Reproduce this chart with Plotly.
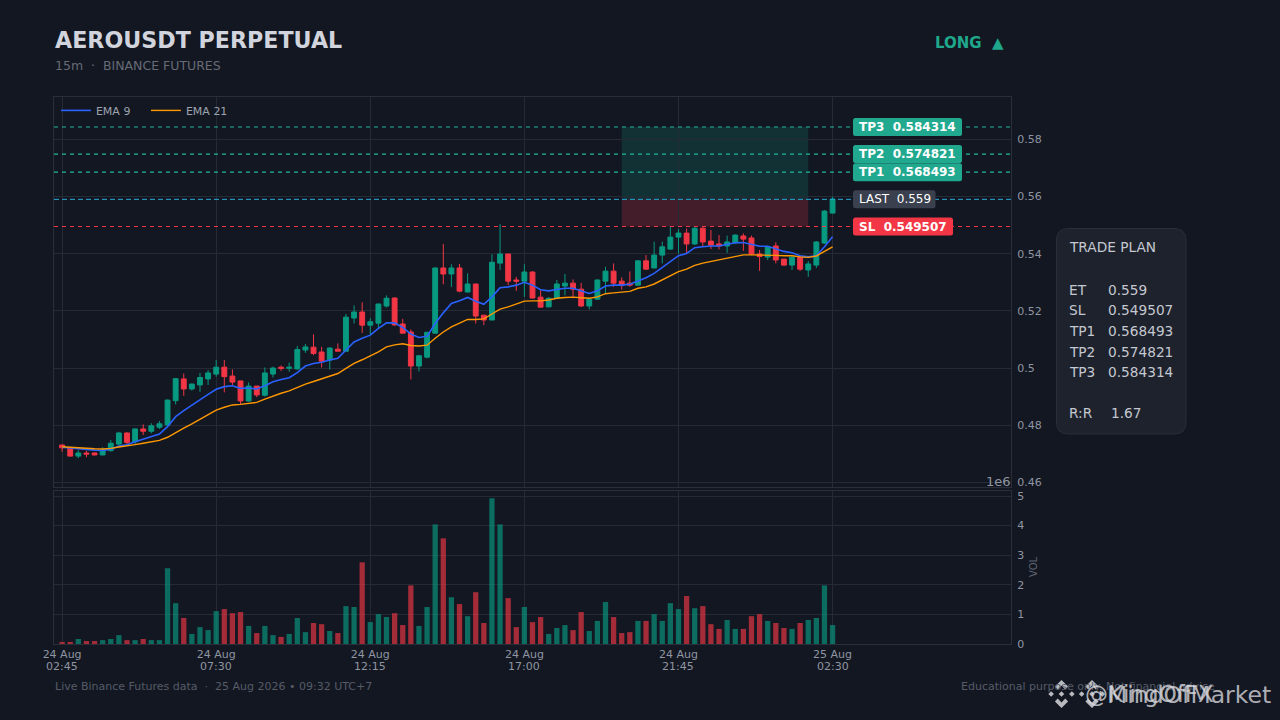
import plotly.graph_objects as go

FONT = "DejaVu Sans"
BG = "#131722"
GRID = "#262a35"
FRAME = "#2a2e39"
GREEN = "#089981"
RED = "#f23645"

opens = [.4731, .4721, .4692, .4703, .4703, .4696, .4711, .4734, .4773, .4742,
         .4787, .4779, .4793, .4801, .4886, .4962, .4927, .4941, .4962, .4979,
         .5003, .4972, .4955, .4885, .4937, .4905, .4979, .5003, .4999, .4997,
         .5063, .5073, .5056, .5028, .5066, .5059, .5175, .5196, .5150, .5157,
         .5217, .5245, .5154, .5126, .5007, .5038, .5122, .5350, .5329, .5350,
         .5266, .5294, .5185, .5168, .5367, .5399, .5308, .5304, .5336, .5248,
         .5214, .5244, .5287, .5297, .5276, .5217, .5241, .5304, .5339, .5304,
         .5297, .5290, .5375, .5350, .5395, .5416, .5458, .5472, .5434, .5489,
         .5444, .5434, .5427, .5438, .5462, .5455, .5399, .5388, .5427, .5381,
         .5360, .5388, .5343, .5360, .5437, .5542]
highs = [.4733, .4722, .4713, .4711, .4705, .4723, .4748, .4777, .4775, .4789,
         .4803, .4807, .4815, .4890, .4964, .4981, .4946, .4983, .4993, .5028,
         .5028, .4995, .4955, .4950, .4937, .5002, .5005, .5009, .5019, .5077,
         .5084, .5118, .5074, .5072, .5086, .5189, .5219, .5230, .5174, .5225,
         .5254, .5247, .5172, .5135, .5045, .5127, .5352, .5434, .5363, .5364,
         .5331, .5295, .5185, .5398, .5503, .5399, .5319, .5363, .5338, .5273,
         .5248, .5308, .5329, .5310, .5298, .5245, .5310, .5354, .5366, .5317,
         .5338, .5378, .5395, .5442, .5442, .5494, .5486, .5488, .5496, .5496,
         .5483, .5465, .5463, .5468, .5471, .5463, .5413, .5426, .5440, .5381,
         .5390, .5390, .5374, .5444, .5552, .5599]
lows = [.4707, .4691, .4685, .4688, .4695, .4696, .4708, .4730, .4731, .4731,
        .4766, .4772, .4787, .4798, .4873, .4903, .4921, .4917, .4941, .4970,
        .4915, .4941, .4873, .4882, .4898, .4900, .4967, .4990, .4987, .4993,
        .5053, .5045, .5002, .4995, .5059, .5057, .5156, .5123, .5118, .5139,
        .5212, .5148, .5121, .4960, .4988, .5034, .5120, .5293, .5284, .5265,
        .5265, .5156, .5150, .5168, .5343, .5290, .5270, .5249, .5243, .5213,
        .5212, .5241, .5254, .5244, .5214, .5205, .5238, .5261, .5284, .5275,
        .5284, .5290, .5343, .5348, .5366, .5413, .5401, .5401, .5430, .5427,
        .5416, .5415, .5403, .5434, .5410, .5395, .5340, .5378, .5366, .5358,
        .5343, .5340, .5319, .5350, .5434, .5541]
closes = [.4721, .4692, .4703, .4699, .4696, .4713, .4737, .4773, .4740, .4787,
          .4779, .4798, .4805, .4888, .4963, .4927, .4944, .4967, .4983, .5003,
          .4970, .4951, .4885, .4937, .4906, .4983, .5000, .4999, .5003, .5065,
          .5074, .5051, .5024, .5070, .5059, .5178, .5196, .5150, .5162, .5224,
          .5244, .5151, .5122, .5007, .5043, .5125, .5350, .5329, .5350, .5269,
          .5294, .5182, .5168, .5370, .5399, .5304, .5304, .5336, .5245, .5213,
          .5244, .5294, .5297, .5276, .5217, .5241, .5308, .5339, .5297, .5290,
          .5290, .5375, .5346, .5395, .5424, .5458, .5472, .5434, .5489, .5441,
          .5430, .5427, .5441, .5465, .5451, .5399, .5390, .5424, .5378, .5360,
          .5388, .5346, .5364, .5441, .5549, .5591]
ema9 = [.4723, .4720, .4717, .4716, .4713, .4712, .4716, .4727, .4732, .4742,
        .4751, .4760, .4769, .4795, .4830, .4851, .4871, .4891, .4908, .4926,
        .4935, .4938, .4929, .4930, .4927, .4938, .4952, .4960, .4966, .4984,
        .5007, .5016, .5020, .5028, .5034, .5063, .5091, .5104, .5115, .5139,
        .5158, .5158, .5142, .5119, .5107, .5111, .5156, .5193, .5226, .5235,
        .5247, .5234, .5223, .5249, .5281, .5284, .5290, .5300, .5290, .5274,
        .5270, .5275, .5279, .5279, .5269, .5261, .5270, .5287, .5290, .5290,
        .5293, .5305, .5316, .5331, .5352, .5375, .5393, .5401, .5421, .5424,
        .5427, .5427, .5432, .5438, .5439, .5432, .5426, .5426, .5418, .5408,
        .5403, .5393, .5389, .5393, .5424, .5459]
ema21 = [.4725, .4723, .4720, .4719, .4718, .4717, .4719, .4724, .4727, .4732,
         .4737, .4741, .4747, .4758, .4775, .4790, .4805, .4821, .4836, .4853,
         .4863, .4871, .4873, .4877, .4880, .4891, .4902, .4912, .4920, .4933,
         .4944, .4953, .4963, .4972, .4981, .4999, .5016, .5029, .5042, .5057,
         .5074, .5081, .5085, .5079, .5077, .5080, .5104, .5126, .5144, .5157,
         .5170, .5170, .5172, .5189, .5206, .5214, .5223, .5234, .5235, .5235,
         .5238, .5244, .5247, .5248, .5246, .5244, .5249, .5260, .5263, .5266,
         .5268, .5279, .5284, .5294, .5308, .5324, .5337, .5346, .5359, .5367,
         .5373, .5378, .5384, .5391, .5396, .5396, .5396, .5395, .5394, .5393,
         .5393, .5389, .5387, .5392, .5409, .5424]
volume = [.07, .07, .17, .10, .10, .13, .17, .30, .13, .13,
          .17, .13, .13, 2.56, 1.38, .88, .34, .57, .47, 1.11,
          1.18, 1.04, 1.08, .61, .37, .61, .30, .24, .34, .88,
          .40, .71, .67, .44, .37, 1.28, 1.25, 2.76, .74, 1.01,
          .91, 1.04, .64, 1.98, .61, 1.25, 4.04, 3.57, 1.58, 1.35,
          .94, 1.75, .71, 4.92, 4.04, 1.55, .57, 1.25, .74, .91,
          .34, .54, .64, .47, 1.08, .44, .78, 1.42, .91, .37,
          .40, .78, .78, 1.01, .78, 1.38, 1.18, 1.62, 1.21, 1.28,
          .67, .51, .81, .51, .51, .94, 1.01, .78, .71, .54,
          .51, .71, .81, .88, 1.98, .64]

x_tick_pos = [0, 19, 38, 57, 76, 95]
x_tick_dates = ["24 Aug", "24 Aug", "24 Aug", "24 Aug", "24 Aug", "25 Aug"]
x_tick_times = ["02:45", "07:30", "12:15", "17:00", "21:45", "02:30"]
price_ticks = [0.58, 0.56, 0.54, 0.52, 0.5, 0.48, 0.46]
vol_ticks = [0, 1, 2, 3, 4, 5]

entry = 0.559
sl = 0.549507
tp1 = 0.568493
tp2 = 0.574821
tp3 = 0.584314

plan_names = ["ET", "SL", "TP1", "TP2", "TP3", "R:R"]
plan_values = ["0.559", "0.549507", "0.568493", "0.574821", "0.584314", "1.67"]
plan_rows = [289.5, 310, 331, 351.5, 372, 413]

idx = list(range(len(closes)))
PRICE_RANGE = [0.4584, 0.5948]


# page pixels -> paper coordinates (plot spans 54..1011 and 97..644)
def px(x):
    return (x - 54) / 957


def py(y):
    return (644 - y) / 547


def price_y(p):
    return 97 + (PRICE_RANGE[1] - p) * 390 / (PRICE_RANGE[1] - PRICE_RANGE[0])


def round_rect(x0, y0, x1, y1, r):
    return (f"M {px(x0 + r)} {py(y0)} L {px(x1 - r)} {py(y0)} "
            f"Q {px(x1)} {py(y0)} {px(x1)} {py(y0 + r)} L {px(x1)} {py(y1 - r)} "
            f"Q {px(x1)} {py(y1)} {px(x1 - r)} {py(y1)} L {px(x0 + r)} {py(y1)} "
            f"Q {px(x0)} {py(y1)} {px(x0)} {py(y1 - r)} L {px(x0)} {py(y0 + r)} "
            f"Q {px(x0)} {py(y0)} {px(x0 + r)} {py(y0)} Z")


def poly(cx, cy, r, pts):
    s = [f"{px(cx + a * r)} {py(cy - b * r)}" for a, b in pts]
    return "M " + " L ".join(s) + " Z"


def logo_paths(cx, cy, r):
    d = 0.2
    out = []
    for a, b in [(0, 0), (-0.74, 0), (0.74, 0)]:
        out.append(poly(cx, cy, r, [(a, b + d), (a + d, b), (a, b - d), (a - d, b)]))
    top = [(0, 1), (.47, .53), (.27, .33), (0, .6), (-.27, .33), (-.47, .53)]
    out.append(poly(cx, cy, r, top))
    out.append(poly(cx, cy, r, [(a, -b) for a, b in top]))
    return out


fig = go.Figure()

fig.add_trace(go.Candlestick(
    x=idx, open=opens, high=highs, low=lows, close=closes,
    increasing=dict(line=dict(color=GREEN, width=1), fillcolor=GREEN),
    decreasing=dict(line=dict(color=RED, width=1), fillcolor=RED),
    showlegend=False, hoverinfo="skip",
))
fig.add_trace(go.Scatter(x=idx, y=ema9, mode="lines", name="EMA 9",
                         line=dict(color="#2962ff", width=1.6)))
fig.add_trace(go.Scatter(x=idx, y=ema21, mode="lines", name="EMA 21",
                         line=dict(color="#ff9800", width=1.4)))

vol_colors = ["rgba(8,153,129,0.65)" if c >= o else "rgba(242,54,69,0.65)"
              for o, c in zip(opens, closes)]
fig.add_trace(go.Bar(x=idx, y=volume, marker=dict(color=vol_colors, line=dict(width=0)),
                     width=0.65, xaxis="x2", yaxis="y2", showlegend=False))

shapes = [
    dict(type="rect", xref="x", yref="y", x0=69, x1=92, y0=entry, y1=tp3,
         fillcolor="rgba(8,153,129,0.2)", line_width=0, layer="below"),
    dict(type="rect", xref="x", yref="y", x0=69, x1=92, y0=sl, y1=entry,
         fillcolor="rgba(242,54,69,0.22)", line_width=0, layer="below"),
]
for level, color, dash, lw in [(tp3, "#20b89a", "4px,4px", 1.2), (tp2, "#20b89a", "4px,4px", 1.2),
                               (tp1, "#20b89a", "4px,4px", 1.2),
                               (entry, "rgba(200,210,220,0.3)", "1px,15px", 1),
                               (entry, "#26a5d6", "5px,3px", 1), (sl, RED, "4px,4px", 1.2)]:
    shapes.append(dict(type="line", xref="paper", yref="y", x0=0, x1=1, y0=level, y1=level,
                       line=dict(color=color, width=lw, dash=dash)))

chips = [(f"<b>TP3  {tp3}</b>", tp3, 962, "#21a98f"), (f"<b>TP2  {tp2}</b>", tp2, 962, "#21a98f"),
         (f"<b>TP1  {tp1}</b>", tp1, 962, "#21a98f"), (f"LAST  {entry}", entry, 935.5, "#3a404e"),
         (f"<b>SL  {sl}</b>", sl, 953, "#f23645")]
annotations = []
for text, level, right, fill in chips:
    yc = price_y(level)
    shapes.append(dict(type="path", xref="paper", yref="paper", fillcolor=fill, line_width=0,
                       path=round_rect(853, yc - 9, right, yc + 9, 2.5)))
    annotations.append(dict(xref="paper", yref="y", x=px(859), y=level, text=text, showarrow=False,
                            xanchor="left", yanchor="middle", borderpad=0, borderwidth=0,
                            font=dict(family=FONT, size=12, color="#ffffff")))

shapes.append(dict(type="path", xref="paper", yref="paper", fillcolor="#1e222d",
                   line=dict(color="#2a2e39", width=1),
                   path=round_rect(1056.5, 228.5, 1186, 434, 12)))

for cx in [1061.5, 1092]:
    for p in logo_paths(cx, 694, 14):
        shapes.append(dict(type="path", xref="paper", yref="paper", path=p,
                           fillcolor="rgba(215,215,220,0.85)", line_width=0))


def label(x, y, text, size, color, anchor="left"):
    annotations.append(dict(xref="paper", yref="paper", x=px(x), y=py(y), text=text, showarrow=False,
                            xanchor=anchor, yanchor="middle", borderpad=0, borderwidth=0,
                            font=dict(family=FONT, size=size, color=color)))


label(54.5, 40, "<b>AEROUSDT PERPETUAL</b>", 22.2, "#d1d4dc")
label(54.5, 66, "15m  ·  BINANCE FUTURES", 12.5, "#666b76")
label(935, 43, "<b>LONG  ▲</b>", 15, "#1fa88c")
label(1011, 482, "1e6", 13, "#8f95a1", "right")
label(55, 686, "Live Binance Futures data  ·  25 Aug 2026 • 09:32 UTC+7", 11, "#555b67")
label(961, 686, "Educational purpose only. Not financial advice", 11, "#555b67")
label(1085, 694, "@KingOfFX", 23, "rgba(215,215,220,0.8)")
label(1107, 695, "MindOfMarket", 23.5, "rgba(215,215,220,0.8)")

label(1069, 247, "TRADE PLAN", 13.7, "#c4c8d0")
for name, value, row in zip(plan_names, plan_values, plan_rows):
    label(1069, row, name, 13.7, "#c4c8d0")
    label(1111 if name == "R:R" else 1108, row, value, 13.7, "#c4c8d0")

for pos, t in zip(x_tick_pos, x_tick_times):
    annotations.append(dict(xref="x2", yref="paper", x=pos, y=py(666.5), text=t, showarrow=False,
                            xanchor="center", yanchor="middle", borderpad=0, borderwidth=0,
                            font=dict(family=FONT, size=11, color="#8f95a1")))

annotations.append(dict(xref="paper", yref="paper", x=px(1033), y=py(567), text="VOL", textangle=-90,
                        xanchor="center", yanchor="middle", showarrow=False,
                        font=dict(family=FONT, size=10, color="#5f6572")))

x_common = dict(range=[-1, 117], tickmode="array", tickvals=x_tick_pos, showgrid=True,
                gridcolor=GRID, gridwidth=1, showline=True, linecolor=FRAME, mirror=True,
                zeroline=False, ticks="")
y_common = dict(side="right", tickmode="array", showgrid=True, gridcolor=GRID, gridwidth=1,
                showline=True, linecolor=FRAME, mirror=True, zeroline=False, ticks="",
                ticklabelstandoff=3,
                tickfont=dict(family=FONT, size=11, color="#8f95a1"))

fig.update_layout(
    width=1280, height=720,
    autosize=False,
    margin=dict(l=54, r=269, t=97, b=76),
    paper_bgcolor=BG, plot_bgcolor=BG,
    font=dict(family=FONT),
    xaxis=dict(x_common, domain=[0, 1], anchor="y", showticklabels=False,
               ticktext=x_tick_dates, rangeslider=dict(visible=False)),
    xaxis2=dict(x_common, domain=[0, 1], anchor="y2", matches="x", ticktext=x_tick_dates,
                tickfont=dict(family=FONT, size=11, color="#8f95a1")),
    yaxis=dict(y_common, domain=[py(487), 1], anchor="x", range=PRICE_RANGE,
               tickvals=price_ticks, ticktext=[str(t) for t in price_ticks]),
    yaxis2=dict(y_common, domain=[0, py(490.5)], anchor="x2", range=[0, 5.186],
                tickvals=vol_ticks, ticktext=[str(t) for t in vol_ticks]),
    legend=dict(x=0.002, y=1.002, xref="paper", yref="paper", orientation="h", entrywidth=45,
                bgcolor="rgba(0,0,0,0)", font=dict(family=FONT, size=11, color="#9ca3af")),
    shapes=shapes,
    annotations=annotations,
    showlegend=True,
    boxgap=0.4,
    boxgroupgap=0,
)

fig.write_html("out.html", config={"displayModeBar": False},
               post_script="document.body.style.margin='0';document.body.style.background='#131722';")
